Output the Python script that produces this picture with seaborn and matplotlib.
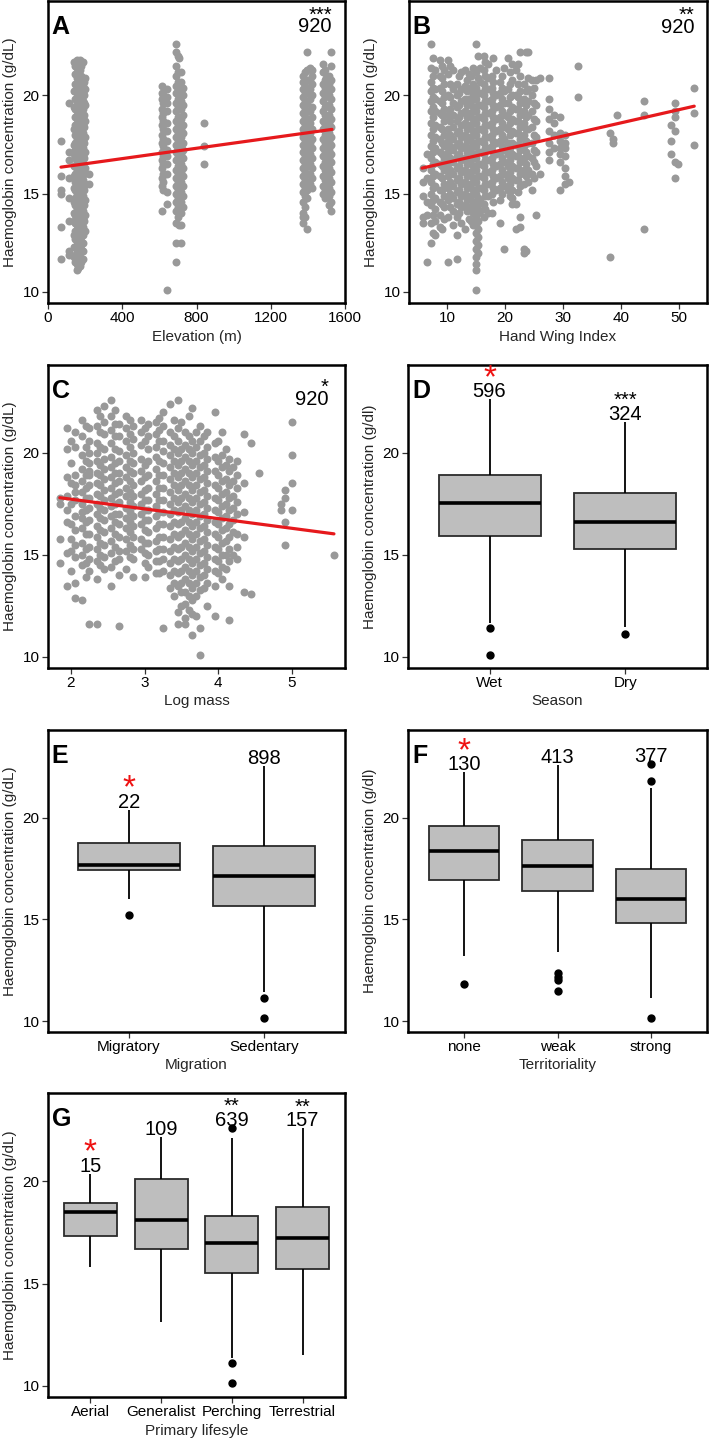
import numpy as np
import pandas as pd
import seaborn as sns
import matplotlib.pyplot as plt

sns.set_style("ticks")
plt.rcParams['font.family'] = ['Liberation Sans', 'DejaVu Sans']

# ---------------- A: Hb against elevation (site columns) ----------------
a_elev = [70, 115, 140, 155, 172, 188, 200, 220,
          612, 640, 690, 705, 725, 840,
          1375, 1395, 1420, 1480, 1500, 1525,
          148, 163, 180, 195, 620, 698, 718, 1385, 1410, 1490, 1515]
a_hb = [
    [17.7, 15.9, 15.2, 15.0, 13.3, 11.7],
    [19.6, 17.1, 16.7, 15.8, 14.8, 13.6, 12.1, 11.9],
    [21.7, 20.2, 19.4, 18.3, 17.5, 17.0, 16.4, 15.9, 15.3, 14.6, 14.0, 13.6, 12.9, 12.3, 11.8],
    [21.8, 21.4, 20.9, 20.4, 19.9, 19.5, 19.0, 18.6, 18.2, 17.8, 17.4, 17.0, 16.6, 16.2,
     15.8, 15.4, 15.0, 14.6, 14.2, 13.8, 13.4, 13.0, 12.6, 12.2, 11.8, 11.4, 11.1],
    [21.8, 21.3, 20.8, 20.4, 20.0, 19.6, 19.2, 18.8, 18.4, 18.0, 17.6, 17.2, 16.8, 16.4,
     16.0, 15.6, 15.2, 14.8, 14.4, 14.0, 13.6, 13.2, 12.8, 12.4, 12.0, 11.6, 11.3],
    [21.7, 20.9, 20.5, 20.1, 19.7, 19.3, 18.9, 18.5, 18.1, 17.7, 17.3, 16.9, 16.5, 16.1,
     15.7, 15.3, 14.9, 14.5, 14.1, 13.7, 13.3, 12.9, 12.5, 12.1, 11.7],
    [20.9, 20.3, 19.5, 18.7, 17.9, 17.1, 16.3, 15.5, 14.7, 13.9, 13.1],
    [16.0, 15.5],
    [20.5, 20.1, 19.8, 19.3, 18.9, 18.5, 18.0, 17.6, 17.1, 16.7, 16.3, 15.8, 15.4, 14.1],
    [20.3, 19.9, 19.6, 19.2, 18.6, 18.2, 17.7, 17.2, 16.9, 16.5, 16.0, 15.1, 14.5, 10.1],
    [22.6, 22.2, 21.5, 21.0, 20.5, 20.1, 19.6, 19.2, 18.7, 18.3, 17.9, 17.5, 17.1, 16.7,
     16.2, 15.8, 15.4, 15.0, 14.6, 14.1, 13.5, 12.5, 11.5],
    [21.9, 20.3, 19.4, 18.5, 17.7, 16.9, 16.0, 15.2, 14.4, 13.4],
    [20.4, 20.0, 19.5, 19.0, 18.5, 18.1, 17.6, 17.2, 16.8, 16.3, 15.9, 15.4, 14.9, 14.3],
    [18.6, 17.4, 16.5],
    [21.0, 20.7, 20.3, 19.9, 19.5, 19.1, 18.7, 18.3, 17.9, 17.5, 17.1, 16.7, 16.3, 15.9,
     15.5, 15.1, 14.6, 14.0, 13.8, 13.5],
    [22.2, 21.3, 20.8, 20.1, 19.6, 19.2, 18.8, 18.4, 18.0, 17.6, 17.2, 16.8, 16.4, 16.0,
     15.6, 15.2, 14.8, 13.2],
    [21.3, 21.0, 20.6, 20.0, 19.4, 18.9, 18.3, 17.8, 17.3, 16.8, 16.3, 15.8, 15.3],
    [21.6, 21.2, 20.6, 20.1, 19.7, 19.2, 18.7, 18.3, 17.8, 17.3, 16.9, 16.4, 15.9, 15.4, 15.0],
    [20.9, 20.2, 19.5, 18.8, 18.1, 17.5, 16.8, 16.1, 15.5, 14.9],
    [22.2, 21.5, 20.8, 20.3, 19.8, 19.3, 18.8, 18.4, 17.9, 17.5, 17.0, 16.6, 16.1, 15.6,
     15.1, 14.6, 14.1],
    [21.5, 21.1, 20.6, 20.2, 19.8, 19.3, 18.9, 18.5, 18.0, 17.6, 17.2, 16.8, 16.4, 16.0,
     15.6, 15.2, 14.8, 14.4, 13.9, 13.5, 13.1, 12.7, 12.3, 11.9, 11.5],
    [21.6, 21.1, 20.7, 20.2, 19.7, 19.3, 18.9, 18.4, 18.0, 17.5, 17.1, 16.7, 16.3, 15.8,
     15.4, 15.0, 14.5, 14.1, 13.7, 13.3, 12.9, 12.4, 12.0, 11.6, 11.2],
    [21.5, 21.0, 20.6, 20.2, 19.8, 19.4, 19.0, 18.6, 18.2, 17.8, 17.4, 17.0, 16.6, 16.2,
     15.8, 15.4, 15.0, 14.6, 14.2, 13.8, 13.4, 13.0, 12.6, 12.2, 11.5],
    [20.7, 20.0, 19.6, 19.0, 18.4, 17.6, 16.8, 16.0, 15.2, 14.4, 13.6],
    [20.0, 19.6, 19.1, 18.7, 18.3, 17.8, 17.4, 16.9, 16.5, 16.0, 15.6, 15.2],
    [22.0, 21.2, 20.7, 20.2, 19.8, 19.4, 18.9, 18.5, 18.1, 17.7, 17.3, 16.9, 16.4, 16.0,
     15.6, 15.2, 14.8, 14.3, 13.8],
    [21.2, 20.7, 20.2, 19.7, 19.3, 18.8, 18.3, 17.9, 17.4, 17.0, 16.5, 16.1, 15.6, 15.1,
     14.6, 14.0, 13.4, 12.5],
    [21.2, 20.5, 20.1, 19.7, 19.3, 18.9, 18.5, 18.1, 17.7, 17.3, 16.9, 16.5, 16.1, 15.7,
     15.3, 14.9, 14.3, 13.8],
    [21.4, 20.8, 20.3, 19.8, 19.2, 18.6, 18.1, 17.6, 17.0, 16.5, 16.0, 15.5],
    [21.3, 20.8, 20.4, 19.9, 19.4, 19.0, 18.5, 18.0, 17.6, 17.1, 16.6, 16.2, 15.7, 15.2, 14.8],
    [21.0, 20.6, 20.0, 19.5, 19.0, 18.6, 18.1, 17.7, 17.2, 16.8, 16.3, 15.8, 15.3, 14.9, 14.4],
]
a_fit_x = [70, 1530]
a_fit_y = [16.35, 18.27]
a_n = '920'

# ---------------- B: Hb against hand wing index ----------------
b_hwi = [5.8, 6.5, 7.3, 8.0, 8.8, 9.5, 10.2, 11.0, 11.7, 12.4, 13.1, 13.8, 14.5, 15.0,
         15.6, 16.3, 17.0, 17.7, 18.4, 19.1, 19.8, 20.5, 21.2, 21.9, 22.6, 23.3, 24.0,
         24.7, 25.4, 26.1, 27.5, 28.5, 29.5, 30.3, 31.0, 32.5, 38.0, 38.6, 39.3, 44.0,
         48.6, 49.2, 49.8, 52.6,
         7.6, 9.1, 10.6, 12.0, 13.4, 14.2, 15.3, 16.6, 18.0, 19.4, 20.9, 22.2, 23.6, 25.0]
b_hb = [
    [16.3, 15.6, 14.9, 13.8, 13.5],
    [17.0, 15.8, 14.6, 13.9, 11.5],
    [22.6, 21.4, 20.7, 20.2, 19.7, 19.2, 18.6, 18.0, 17.4, 16.8, 16.2, 15.6, 15.0, 14.4, 13.5, 12.5],
    [21.3, 20.3, 19.8, 19.2, 18.5, 17.9, 17.3, 16.6, 16.0, 15.4, 14.8, 14.2, 13.6, 12.9],
    [21.8, 21.0, 20.4, 19.7, 19.1, 18.4, 17.8, 17.1, 16.5, 15.9, 15.2, 14.6, 13.9, 13.3],
    [21.3, 20.6, 19.9, 19.3, 18.7, 18.0, 17.4, 16.8, 16.2, 15.5, 14.9, 14.3, 13.7],
    [21.8, 21.1, 20.0, 19.0, 18.3, 17.7, 17.1, 16.5, 15.9, 15.3, 14.7, 13.8, 11.5],
    [21.3, 20.3, 19.6, 19.0, 18.4, 17.8, 17.2, 16.6, 16.0, 15.4, 14.8, 14.1, 13.4],
    [20.6, 20.0, 19.4, 18.7, 18.1, 17.5, 16.9, 16.3, 15.7, 15.1, 14.5, 13.8, 12.9, 11.7],
    [21.2, 20.3, 19.7, 19.1, 18.5, 17.9, 17.3, 16.7, 16.1, 15.5, 14.9, 14.3, 13.5],
    [21.3, 20.5, 19.8, 19.2, 18.6, 18.0, 17.4, 16.8, 16.2, 15.6, 15.0, 14.4, 13.2],
    [21.1, 20.4, 19.8, 19.1, 18.5, 17.9, 17.3, 16.7, 16.1, 15.5, 14.9, 14.3, 13.7],
    [21.4, 20.6, 20.0, 19.4, 18.8, 18.2, 17.6, 17.0, 16.4, 15.8, 15.2, 14.6, 14.0, 13.4],
    [22.6, 21.2, 20.4, 19.8, 19.2, 18.6, 18.0, 17.4, 16.8, 16.2, 15.6, 15.0, 14.6, 14.2,
     13.8, 13.4, 13.0, 12.6, 12.2, 11.8, 11.4, 11.1, 10.1],
    [21.4, 20.7, 20.1, 19.5, 18.9, 18.3, 17.7, 17.1, 16.5, 15.9, 15.3, 14.7, 14.1],
    [22.0, 21.3, 20.6, 20.0, 19.4, 18.8, 18.2, 17.6, 17.0, 16.4, 15.8, 15.2, 14.5, 13.8],
    [21.6, 20.9, 20.3, 19.7, 19.1, 18.5, 17.9, 17.3, 16.7, 16.1, 15.5, 14.9, 14.0],
    [21.0, 20.4, 19.8, 19.2, 18.6, 18.0, 17.4, 16.8, 16.2, 15.6, 15.0, 14.0],
    [21.3, 20.0, 19.4, 18.8, 18.2, 17.6, 17.0, 16.4, 15.8, 15.2],
    [20.7, 20.1, 19.5, 18.9, 18.3, 17.7, 17.1, 16.5, 15.9, 15.3, 14.7, 13.5],
    [21.4, 20.2, 19.6, 19.0, 18.4, 17.8, 17.2, 16.6, 16.0, 15.4, 12.2],
    [21.9, 20.3, 19.6, 18.9, 18.3, 17.6, 17.0, 16.4, 15.8, 15.2],
    [21.6, 20.8, 20.0, 19.4, 18.8, 18.2, 17.6, 17.0, 16.4, 15.8, 15.2, 14.8, 14.5],
    [21.3, 20.0, 19.3, 18.7, 18.1, 17.5, 16.9, 16.3, 15.7, 14.5, 13.2],
    [22.2, 21.0, 20.2, 19.6, 19.0, 18.4, 17.8, 17.2, 16.6, 16.0, 15.4, 13.8, 13.3],
    [20.6, 19.8, 19.2, 18.6, 18.0, 17.4, 16.8, 16.2, 15.5, 12.2, 12.0],
    [22.2, 20.9, 20.3, 19.7, 19.0, 18.3, 17.6, 16.9, 16.2, 15.6],
    [20.8, 20.0, 19.2, 18.4, 17.6, 16.8, 16.0, 15.2],
    [20.8, 19.5, 18.7, 17.9, 17.1, 16.4, 13.9],
    [20.9, 16.0],
    [20.9, 19.8, 19.3, 18.8, 18.2, 17.6, 17.1, 16.7],
    [19.0, 18.6, 18.0, 17.3],
    [18.9, 18.1, 17.7, 17.3, 17.0, 16.6, 15.2],
    [18.0, 17.6, 17.3, 16.9, 16.3, 15.9, 15.5],
    [15.6],
    [21.5, 19.9],
    [18.1, 11.8],
    [17.6, 17.8],
    [19.0],
    [19.7, 19.0, 13.2],
    [18.5, 17.7, 17.0],
    [19.6, 19.2, 18.9, 18.2, 16.6, 15.8],
    [16.5],
    [20.4, 19.1, 17.5],
    [21.9, 21.0, 20.4, 19.9, 19.4, 18.9, 18.3, 17.7, 17.1, 16.5, 15.9, 15.3, 14.7, 13.9, 13.0],
    [21.5, 20.9, 20.2, 19.6, 19.0, 18.3, 17.6, 17.0, 16.4, 15.8, 15.2, 14.5, 13.2],
    [21.5, 20.6, 19.9, 19.3, 18.7, 18.0, 17.4, 16.8, 16.2, 15.6, 15.0, 14.3],
    [21.0, 20.1, 19.5, 18.9, 18.2, 17.6, 17.0, 16.4, 15.8, 15.2, 14.6, 14.0],
    [20.8, 20.2, 19.5, 18.9, 18.3, 17.7, 17.1, 16.5, 15.9, 15.3, 14.7, 14.1],
    [21.0, 20.3, 19.7, 19.1, 18.5, 17.9, 17.3, 16.7, 16.1, 15.5, 14.9, 14.3, 13.6],
    [22.0, 20.9, 20.1, 19.5, 18.9, 18.3, 17.7, 17.1, 16.5, 15.9, 15.3, 14.8, 14.4, 14.0,
     13.6, 13.2, 12.8, 12.4, 12.0],
    [21.7, 21.0, 20.3, 19.7, 19.1, 18.5, 17.9, 17.3, 16.7, 16.1, 15.5, 14.9, 14.2],
    [21.9, 20.7, 20.1, 19.5, 18.9, 18.3, 17.7, 17.1, 16.5, 15.9, 15.3, 14.6],
    [21.0, 20.4, 19.8, 19.2, 18.6, 18.0, 17.4, 16.8, 16.2, 15.6, 15.0],
    [21.2, 20.6, 19.9, 19.2, 18.6, 18.0, 17.3, 16.7, 16.1, 15.5, 14.9],
    [21.6, 20.6, 19.9, 19.3, 18.7, 18.1, 17.5, 16.9, 16.3, 15.7, 15.1],
    [22.2, 20.2, 19.5, 18.9, 18.3, 17.7, 17.1, 16.5, 15.9, 12.1],
    [20.4, 19.6, 18.8, 18.0, 17.2, 16.6, 15.8],
]
b_fit_x = [5.7, 52.6]
b_fit_y = [16.3, 19.45]
b_n = '920'

# ---------------- C: Hb against log mass ----------------
c_logmass = [1.85, 1.95, 2.05, 2.15, 2.25, 2.35, 2.45, 2.55, 2.65, 2.75, 2.85, 2.95,
             3.05, 3.15, 3.25, 3.35, 3.45, 3.55, 3.65, 3.75, 3.85, 3.95, 4.05, 4.15,
             4.25, 4.35, 4.45, 4.55, 4.85, 4.9, 5.0, 5.57,
             2.0, 2.2, 2.4, 2.6, 2.8, 3.0, 3.2, 3.4, 3.5, 3.6, 3.7, 3.8, 4.0, 4.1, 4.2]
c_hb = [
    [17.8, 17.5, 15.8, 14.6],
    [21.2, 20.2, 18.8, 17.2, 16.6, 15.1, 13.5, 17.9],
    [21.0, 20.3, 18.9, 18.4, 17.7, 16.9, 16.2, 15.5, 14.9, 13.6, 12.9, 18.1],
    [21.6, 20.8, 19.9, 19.2, 18.6, 18.1, 17.5, 16.8, 16.3, 15.6, 15.0, 14.5, 12.8, 17.1],
    [21.2, 20.6, 20.0, 19.5, 18.9, 18.4, 17.8, 17.3, 16.7, 16.0, 15.4, 14.8, 14.2, 11.6, 19.1],
    [22.1, 21.3, 20.5, 20.0, 19.6, 19.0, 18.5, 18.0, 17.5, 17.0, 16.4, 15.9, 15.3, 14.7, 13.8, 11.6],
    [22.3, 21.5, 20.9, 20.2, 19.7, 19.2, 18.7, 18.2, 17.7, 17.2, 16.7, 16.1, 15.5, 14.9, 14.3],
    [22.6, 21.8, 21.1, 20.5, 19.8, 19.3, 18.8, 18.3, 17.8, 17.4, 16.9, 16.3, 15.7, 15.1, 14.4, 13.5],
    [21.4, 20.8, 20.1, 19.6, 19.0, 18.6, 18.1, 17.6, 17.0, 16.5, 15.9, 15.2, 14.8, 14.0, 11.5],
    [21.8, 21.2, 20.6, 19.9, 19.3, 18.8, 18.3, 17.9, 17.3, 16.8, 16.3, 15.8, 15.2, 14.3],
    [21.3, 20.7, 20.0, 19.5, 19.0, 18.4, 17.9, 17.4, 16.9, 16.4, 15.9, 15.3, 14.8, 13.9],
    [21.6, 21.0, 20.4, 19.7, 19.1, 18.6, 18.0, 17.5, 17.0, 16.5, 15.8, 15.3],
    [21.4, 20.8, 20.2, 19.6, 18.9, 18.3, 17.7, 17.2, 16.7, 16.1, 15.6, 15.0, 14.4],
    [21.5, 20.9, 20.3, 19.8, 19.2, 18.6, 18.0, 17.4, 16.9, 16.3, 15.7, 15.2, 14.7, 14.1],
    [22.0, 21.3, 20.6, 20.1, 19.5, 18.9, 18.3, 17.7, 17.1, 16.5, 15.9, 15.3, 14.8, 14.2, 11.4],
    [22.4, 21.0, 20.4, 19.9, 19.3, 18.7, 18.1, 17.5, 17.0, 16.4, 15.8, 15.2, 14.6, 14.0, 13.4],
    [22.6, 21.2, 20.6, 20.0, 19.4, 18.8, 18.2, 17.6, 17.1, 16.5, 15.9, 15.3, 14.7, 14.1,
     13.5, 12.2, 11.6],
    [21.0, 20.4, 19.8, 19.2, 18.6, 18.0, 17.4, 16.8, 16.2, 15.6, 15.0, 14.4, 13.8, 13.2,
     12.6, 11.9, 11.6],
    [22.2, 20.6, 20.0, 19.4, 18.8, 18.2, 17.6, 17.0, 16.4, 15.8, 15.2, 14.6, 14.0, 13.4,
     12.8, 12.1, 11.1],
    [21.3, 20.6, 19.9, 19.3, 18.7, 18.1, 17.5, 16.9, 16.3, 15.7, 15.1, 14.5, 13.9, 13.3, 11.4, 10.1],
    [21.0, 20.3, 19.7, 19.1, 18.5, 17.9, 17.3, 16.7, 16.1, 15.5, 14.9, 14.3, 13.6, 12.5],
    [22.0, 20.5, 19.8, 19.1, 18.4, 17.8, 17.2, 16.6, 16.0, 15.4, 14.8, 14.2, 13.5, 12.0],
    [21.0, 19.9, 19.3, 18.6, 18.0, 17.4, 16.8, 16.2, 15.6, 15.0, 14.4, 13.8],
    [19.7, 19.1, 18.4, 17.8, 17.2, 16.5, 15.9, 15.3, 14.7, 13.5, 11.8],
    [19.6, 18.9, 18.3, 17.6, 17.0, 16.0, 15.4, 14.8],
    [20.9, 18.5, 17.1, 15.9, 13.2],
    [20.5, 13.1],
    [19.0],
    [17.5, 17.2],
    [17.8, 18.2, 16.6, 15.5],
    [21.5, 19.9, 18.5, 17.2],
    [15.0],
    [20.6, 19.5, 18.5, 17.5, 16.5, 15.8, 15.2, 14.2],
    [21.3, 20.3, 19.6, 18.9, 18.3, 17.8, 17.2, 16.6, 16.0, 15.3, 14.6, 13.9],
    [21.8, 21.0, 20.3, 19.4, 18.9, 18.4, 17.9, 17.3, 16.8, 16.2, 15.6, 15.0, 14.5],
    [22.1, 21.4, 20.8, 20.2, 19.5, 19.0, 18.5, 18.0, 17.5, 17.0, 16.6, 16.0, 15.4, 14.7],
    [21.6, 20.9, 20.3, 19.6, 19.1, 18.6, 18.1, 17.6, 17.1, 16.6, 16.1, 15.5, 14.9],
    [21.2, 20.6, 19.4, 18.8, 18.2, 17.7, 17.2, 16.7, 16.2, 15.6, 15.1, 14.6, 13.9],
    [21.7, 21.1, 20.6, 19.6, 18.9, 18.3, 17.7, 17.1, 16.5, 15.9, 15.3, 14.7, 14.1],
    [21.6, 20.8, 20.2, 19.6, 19.0, 18.4, 17.8, 17.2, 16.6, 16.0, 15.4, 14.8, 14.2, 13.6, 13.0],
    [21.5, 20.2, 19.6, 19.0, 18.4, 17.8, 17.2, 16.6, 16.0, 15.4, 14.8, 14.2, 13.6, 13.2, 12.5],
    [21.8, 20.8, 20.2, 19.6, 19.0, 18.4, 17.8, 17.2, 16.6, 16.0, 15.4, 14.8, 14.2, 13.6,
     13.0, 12.3],
    [21.0, 20.3, 19.6, 19.0, 18.4, 17.8, 17.2, 16.6, 16.0, 15.4, 14.8, 14.2, 13.6, 13.0, 12.0],
    [20.8, 20.0, 19.4, 18.8, 18.2, 17.6, 17.0, 16.4, 15.8, 15.2, 14.6, 14.0, 13.4],
    [20.6, 19.6, 18.9, 18.3, 17.7, 17.1, 16.5, 15.9, 15.3, 14.7, 14.1],
    [20.2, 19.4, 18.7, 18.1, 17.5, 16.9, 16.3, 15.7, 15.0, 14.3],
    [19.3, 18.6, 17.9, 17.3, 16.7, 16.1, 15.0],
]
c_fit_x = [1.85, 5.57]
c_fit_y = [17.8, 16.03]
c_n = '920'

# ---------------- box plot summaries (D-G) ----------------
d_groups = ['Wet', 'Dry']
d_q1 = [15.93, 15.29]
d_med = [17.52, 16.62]
d_q3 = [18.92, 18.02]
d_wlo = [11.67, 11.49]
d_whi = [22.63, 21.53]
d_out = [[11.40, 10.1], [11.11]]
d_n = ['596', '324']
d_sig = ['red', '***']

e_groups = ['Migratory', 'Sedentary']
e_q1 = [17.40, 15.64]
e_med = [17.65, 17.11]
e_q3 = [18.76, 18.60]
e_wlo = [16.0, 11.44]
e_whi = [20.38, 22.55]
e_out = [[15.2], [11.11, 10.13]]
e_n = ['22', '898']
e_sig = ['red', '']

f_groups = ['none', 'weak', 'strong']
f_q1 = [16.95, 16.40, 14.80]
f_med = [18.35, 17.61, 15.99]
f_q3 = [19.58, 18.91, 17.48]
f_wlo = [13.19, 13.40, 11.11]
f_whi = [22.22, 22.60, 21.45]
f_out = [[11.8], [12.34, 12.17, 12.0, 11.49], [21.81, 22.63, 10.13]]
f_n = ['130', '413', '377']
f_sig = ['red', '', '']

g_groups = ['Aerial', 'Generalist', 'Perching', 'Terrestrial']
g_q1 = [17.33, 16.68, 15.50, 15.69]
g_med = [18.50, 18.10, 17.00, 17.20]
g_q3 = [18.94, 20.10, 18.31, 18.72]
g_wlo = [15.79, 13.11, 11.35, 11.51]
g_whi = [20.37, 22.16, 22.08, 22.57]
g_out = [[], [], [22.60, 11.11, 10.13], []]
g_n = ['15', '109', '639', '157']
g_sig = ['red', '', '**', '**']

POINT_GREY = '#999999'
FIT_RED = '#e6191c'
BOX_GREY = '#bebebe'


def stack(xs, cols):
    rows = [(x, y) for x, col in zip(xs, cols) for y in col]
    return pd.DataFrame(rows, columns=['x', 'hb'])


def box_table(groups, q1, med, q3, wlo, whi, out):
    # values whose quartiles / whiskers / outliers equal the read summaries
    rows = []
    for g, a, m, b, lo, hi, o in zip(groups, q1, med, q3, wlo, whi, out):
        vals = list(o) + [lo] + [a] * 10 + [m] * 10 + [b] * 10 + [hi]
        rows += [(g, v) for v in vals]
    return pd.DataFrame(rows, columns=['group', 'hb'])


def put(ax, txt, x, y, size, color='black', ha='center', coords='data', ink=0.36, weight='normal'):
    ax.annotate(txt, (x, y), xycoords=coords, xytext=(0, -ink * size), textcoords='offset points',
                ha=ha, va='baseline', fontsize=size, color=color, fontweight=weight,
                annotation_clip=False)


def frame(ax, letter, xlabel, ylabel, ylim):
    ax.set_ylim(*ylim)
    ax.set_yticks([10, 15, 20])
    ax.set_xlabel(xlabel, fontsize=11, labelpad=3)
    ax.set_ylabel(ylabel, fontsize=11, labelpad=4)
    ax.tick_params(direction='out', length=4, width=0.9, color='#333333', labelsize=11,
                   pad=2, labelcolor='black')
    for s in ax.spines.values():
        s.set_visible(True)
        s.set_linewidth(1.8)
        s.set_color('black')
    put(ax, letter, 0.013, 0.922, 18, coords='axes fraction', ha='left', weight='bold')


def scatter_panel(ax, xs, cols, fit_x, fit_y, n, letter, xlabel, xlim, xticks, sig, sig_x, num_y, sig_y, ylim):
    df = stack(xs, cols)
    sns.scatterplot(data=df, x='x', y='hb', ax=ax, color=POINT_GREY, s=33, linewidth=0, alpha=1)
    sns.lineplot(x=fit_x, y=fit_y, ax=ax, color=FIT_RED, linewidth=2.3)
    ax.set_xlim(*xlim)
    ax.set_xticks(xticks)
    frame(ax, letter, xlabel, 'Haemoglobin concentration (g/dL)', ylim)
    put(ax, n, sig_x, num_y, 14.5, coords='axes fraction', ha='right')
    put(ax, sig, sig_x, sig_y, 14.5, coords='axes fraction', ha='right', ink=0.58)


def box_panel(ax, groups, q1, med, q3, wlo, whi, out, ns, sigs, letter, xlabel, ylabel, ylim):
    df = box_table(groups, q1, med, q3, wlo, whi, out)
    sns.boxplot(data=df, x='group', y='hb', order=groups, ax=ax, color=BOX_GREY, saturation=1,
                width=0.75, linecolor='#2b2b2b', linewidth=1.3, showcaps=False,
                medianprops=dict(color='black', linewidth=2.6),
                whiskerprops=dict(color='black', linewidth=1.3),
                flierprops=dict(marker='o', markerfacecolor='black', markeredgecolor='black',
                                markersize=5))
    ax.set_xlim(-0.6, len(groups) - 0.4)
    frame(ax, letter, xlabel, ylabel, ylim)
    for i, (n, sig) in enumerate(zip(ns, sigs)):
        top = max([whi[i]] + list(out[i]))
        put(ax, n, i, top + 0.45, 14.5)
        if sig == 'red':
            put(ax, '*', i, top + 1.55, 24, color='#ee1111', ink=0.58)
        elif sig:
            put(ax, sig, i, top + 1.35, 14.5, ink=0.58)


W, H = 709, 1443
fig = plt.figure(figsize=(W / 100, H / 100), dpi=100)


def rect(left, right, top, bottom):
    return [left / W, 1 - bottom / H, (right - left) / W, (bottom - top) / H]


axA = fig.add_axes(rect(48, 345, 1, 303))
axB = fig.add_axes(rect(409, 707, 1, 303))
axC = fig.add_axes(rect(48, 345, 365, 668))
axD = fig.add_axes(rect(408, 707, 365, 668))
axE = fig.add_axes(rect(48, 345, 730, 1032))
axF = fig.add_axes(rect(408, 707, 730, 1032))
axG = fig.add_axes(rect(48, 345, 1093, 1397))

row1 = (9.44, 24.8)
rowx = (9.46, 24.3)

scatter_panel(axA, a_elev, a_hb, a_fit_x, a_fit_y, a_n, 'A', 'Elevation (m)', (0, 1600),
              [0, 400, 800, 1200, 1600], '***', 0.956, 0.92, 0.972, row1)
scatter_panel(axB, b_hwi, b_hb, b_fit_x, b_fit_y, b_n, 'B', 'Hand Wing Index', (3.45, 54.8),
              [10, 20, 30, 40, 50], '**', 0.958, 0.917, 0.972, row1)
scatter_panel(axC, c_logmass, c_hb, c_fit_x, c_fit_y, c_n, 'C', 'Log mass', (1.69, 5.72),
              [2, 3, 4, 5], '*', 0.943, 0.891, 0.948, rowx)

box_panel(axD, d_groups, d_q1, d_med, d_q3, d_wlo, d_whi, d_out, d_n, d_sig, 'D', 'Season',
          'Haemoglobin concentration (g/dl)', rowx)
box_panel(axE, e_groups, e_q1, e_med, e_q3, e_wlo, e_whi, e_out, e_n, e_sig, 'E', 'Migration',
          'Haemoglobin concentration (g/dL)', rowx)
box_panel(axF, f_groups, f_q1, f_med, f_q3, f_wlo, f_whi, f_out, f_n, f_sig, 'F', 'Territoriality',
          'Haemoglobin concentration (g/dl)', rowx)
box_panel(axG, g_groups, g_q1, g_med, g_q3, g_wlo, g_whi, g_out, g_n, g_sig, 'G', 'Primary lifesyle',
          'Haemoglobin concentration (g/dL)', rowx)

fig.savefig('out.png', dpi=100)
